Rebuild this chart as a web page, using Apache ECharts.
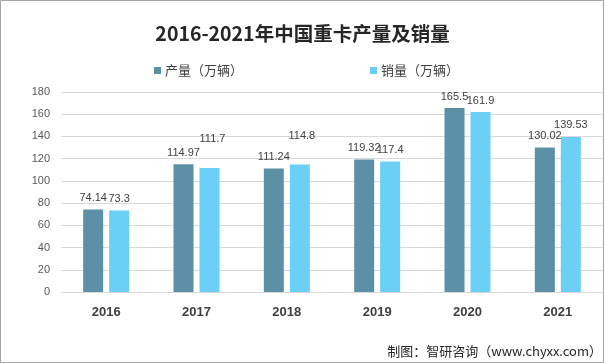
<!DOCTYPE html>
<html><head><meta charset="utf-8">
<script src="https://cdn.jsdelivr.net/npm/echarts@6/dist/echarts.min.js"></script>
<style>html,body{margin:0;padding:0;background:#fff}#c{width:605px;height:364px}</style>
</head><body><div id="c"></div>
<script>
const categories = ['2016','2017','2018','2019','2020','2021'];
const production = [74.14, 114.97, 111.24, 119.32, 165.5, 130.02];
const sales = [73.3, 111.7, 114.8, 117.4, 161.9, 139.53];
const yTicks = [0,20,40,60,80,100,120,140,160,180];
const seriesNames = ['产量（万辆）','销量（万辆）'];

// label nudges (styling, by index) copied from the reference layout
const salesLabelOffsets = {1:[3,-17], 2:[2,-17]};

const chart = echarts.init(document.getElementById('c'));
const cjk = "'Noto Sans CJK SC','Noto Sans',sans-serif";
const lab = {show:true,position:'top',distance:6,fontFamily:"'Liberation Sans',sans-serif",fontSize:11,color:'#404040'};
chart.setOption({
  animation:false,
  backgroundColor:'#fff',
  title:{text:'2016-2021年中国重卡产量及销量',left:'center',top:19,
    textStyle:{fontFamily:cjk,fontSize:19.5,fontWeight:'bold',color:'#262626'}},
  legend:{top:59,left:149,itemWidth:7,itemHeight:7,itemGap:127,icon:'rect',
    textStyle:{fontFamily:cjk,fontSize:13,color:'#404040',padding:[0,0,0,-1]},
    data:seriesNames},
  graphic:[
    {type:'rect',shape:{x:0.5,y:0.5,width:603,height:362},style:{fill:'none',stroke:'#a6a6a6',lineWidth:1},silent:true},
    {type:'text',right:3,bottom:6,style:{text:'制图：智研咨询（www.chyxx.com）',font:"13px 'Noto Sans CJK SC',sans-serif",fill:'#262626'}}
  ],
  grid:{left:61,right:2,top:92,bottom:72},
  xAxis:{type:'category',data:categories,
    axisLine:{lineStyle:{color:'#d9d9d9'}},axisTick:{show:false},
    axisLabel:{margin:14,fontFamily:"'Liberation Sans',sans-serif",fontSize:13,fontWeight:'bold',color:'#404040'}},
  yAxis:{type:'value',min:yTicks[0],max:yTicks[yTicks.length-1],interval:yTicks[1]-yTicks[0],
    axisLine:{show:false},axisTick:{show:false},
    splitLine:{lineStyle:{color:'#d9d9d9'}},
    axisLabel:{margin:11,fontFamily:"'Liberation Sans',sans-serif",fontSize:11,color:'#595959'}},
  series:[
    {name:seriesNames[0],type:'bar',barWidth:20,barGap:'30%',data:production,
      itemStyle:{color:'#5b90a7'},label:lab},
    {name:seriesNames[1],type:'bar',barWidth:20,
      data:sales.map((v,i)=>salesLabelOffsets[i]?{value:v,label:{offset:salesLabelOffsets[i]}}:v),
      itemStyle:{color:'#6ccff5'},label:lab}
  ]
});
</script></body></html>
